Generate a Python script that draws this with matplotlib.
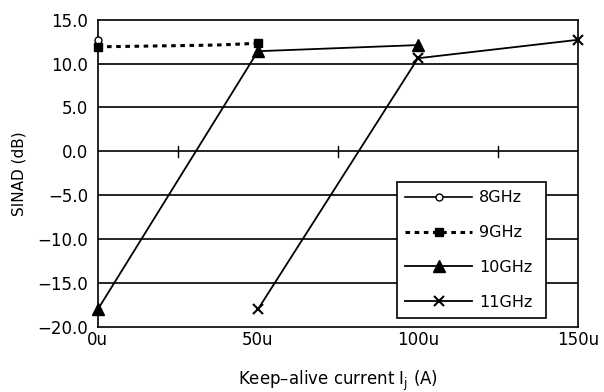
import matplotlib
matplotlib.use("Agg")
import matplotlib.pyplot as plt

plt.rcParams["font.family"] = ["DejaVu Sans"]

# keep-alive current (uA) and SINAD (dB) per frequency
x_8ghz = [0]
y_8ghz = [12.7]
x_9ghz = [0, 37, 50]
y_9ghz = [11.9, 12.1, 12.3]
x_10ghz = [0, 50, 100]
y_10ghz = [-18.0, 11.4, 12.1]
x_11ghz = [50, 100, 150]
y_11ghz = [-18.0, 10.6, 12.7]

x_ticks = [0, 50, 100, 150]
x_labels = ["0u", "50u", "100u", "150u"]
y_ticks = [-20, -15, -10, -5, 0, 5, 10, 15]
minor_x = [25, 75, 125]

fig = plt.figure(figsize=(6.04, 3.92), dpi=100)
ax = fig.add_axes([0.162, 0.166, 0.795, 0.784])

for y in [-15, -10, -5, 0, 5, 10]:
    ax.axhline(y, color="black", lw=1.2, zorder=1)
for x in minor_x:
    ax.plot([x, x], [-0.6, 0.6], color="black", lw=1.0, zorder=1)

ax.plot(x_8ghz, y_8ghz, color="black", lw=1.2, marker="o", ms=5,
        mfc="white", mec="black", label="8GHz", zorder=3, clip_on=False)
ax.plot(x_9ghz, y_9ghz, color="black", lw=2.2, ls=(0, (1.5, 1.5)), marker="s",
        ms=6, markevery=[0, 2], label="9GHz", zorder=4, clip_on=False)
ax.plot(x_10ghz, y_10ghz, color="black", lw=1.3, marker="^", ms=8,
        label="10GHz", zorder=3, clip_on=False)
ax.plot(x_11ghz, y_11ghz, color="black", lw=1.3, marker="x", ms=7, mew=1.5,
        label="11GHz", zorder=3, clip_on=False)

ax.set_xlim(0, 150)
ax.set_ylim(-20, 15)
ax.set_xticks(x_ticks)
ax.set_xticklabels(x_labels)
ax.set_yticks(y_ticks)
ax.set_yticklabels([("%.1f" % v).replace("-", "\u2212") for v in y_ticks])
ax.tick_params(length=0, labelsize=12)
ax.tick_params(axis="y", pad=7)
ax.tick_params(axis="x", pad=3)
for s in ax.spines.values():
    s.set_linewidth(1.2)

ax.set_ylabel("SINAD (dB)", fontsize=11, labelpad=8)
ax.set_xlabel(r"Keep–alive current I$_\mathregular{j}$ (A)", fontsize=12, labelpad=14)

leg = ax.legend(loc="lower left", bbox_to_anchor=(0.623, 0.029, 0.31, 0.443),
                mode="expand", handlelength=4.2, handletextpad=0.45,
                fontsize=11.5, frameon=True, fancybox=False, edgecolor="black",
                framealpha=1, labelspacing=1.25, borderpad=0.5, borderaxespad=0)
leg.get_frame().set_linewidth(1.2)

fig.savefig("out.png", dpi=100)
